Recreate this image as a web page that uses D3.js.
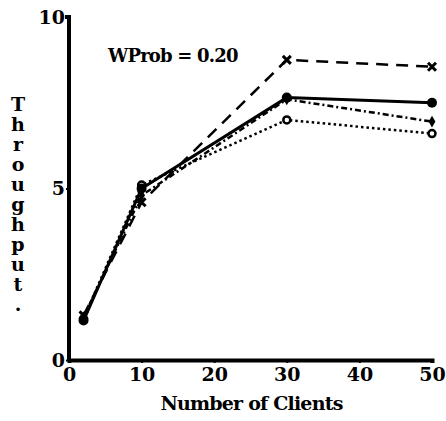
<!DOCTYPE html>
<html>
<head>
<meta charset="utf-8">
<script src="https://cdn.jsdelivr.net/npm/d3@7"></script>
<style>
  body { margin: 0; background: #fff; }
</style>
</head>
<body>
<div id="chart"></div>
<script>
const clients = [2, 10, 30, 50];
const solidVals = [1.15, 5.0, 7.65, 7.5];
const dashedVals = [1.3, 4.6, 8.75, 8.55];
const dashDotVals = [1.25, 4.8, 7.6, 6.95];
const dottedVals = [1.2, 5.1, 7.0, 6.6];
const xTicks = [0, 10, 20, 30, 40, 50];
const yTicks = [0, 5, 10];
const yLabel = "Throughput.";

const FONT = "'DejaVu Serif', serif";
const W = 446, H = 421;
const margin = { top: 17, right: 14, bottom: 61, left: 69 },
  width = W - margin.left - margin.right,
  height = H - margin.top - margin.bottom;

const svg = d3.select("#chart").append("svg")
  .attr("width", W)
  .attr("height", H)
  .append("g")
  .attr("transform", `translate(${margin.left},${margin.top})`);

const x = d3.scaleLinear().domain([0, 50]).range([0, width]);
const y = d3.scaleLinear().domain([0, 10]).range([height, 0]);

// axes
const xAxis = svg.append("g")
  .attr("transform", `translate(0,${height})`)
  .call(d3.axisBottom(x).tickValues(xTicks).tickSize(3).tickPadding(5));
xAxis.select(".domain").attr("stroke-width", 4);

const yAxis = svg.append("g")
  .call(d3.axisLeft(y).tickValues(yTicks).tickSize(3).tickPadding(1));
yAxis.select(".domain").attr("stroke-width", 4).attr("d", `M-4,0H0V${height}`);

[xAxis, yAxis].forEach(a => {
  a.attr("font-family", FONT).attr("font-weight", "bold").attr("font-size", 19);
  a.selectAll(".tick line").attr("stroke-width", 2);
});

// series
const series = [
  { vals: dashedVals, dash: "12,8", marker: "x" },
  { vals: dashDotVals, dash: "6,3,2,3", marker: "diamond" },
  { vals: dottedVals, dash: "2.5,3", marker: "circle" },
  { vals: solidVals, dash: null, marker: "dot" }
];

const line = d3.line()
  .x((d, i) => x(clients[i]))
  .y(d => y(d));

series.forEach(s => {
  svg.append("path")
    .datum(s.vals)
    .attr("fill", "none")
    .attr("stroke", "#000")
    .attr("stroke-width", s.dash ? 2.5 : 3)
    .attr("stroke-dasharray", s.dash)
    .attr("d", line);

  const pts = svg.selectAll(null)
    .data(s.vals)
    .join("g")
    .attr("transform", (d, i) => `translate(${x(clients[i])},${y(d)})`);

  if (s.marker === "x") {
    pts.append("path").attr("d", "M-4,-4L4,4M-4,4L4,-4")
      .attr("stroke", "#000").attr("stroke-width", 3);
  } else if (s.marker === "diamond") {
    pts.append("path").attr("d", d3.symbol(d3.symbolDiamond, 40)())
      .attr("fill", "#000");
  } else if (s.marker === "circle") {
    pts.append("circle").attr("r", 3.5)
      .attr("fill", "#fff").attr("stroke", "#000").attr("stroke-width", 2.5);
  } else {
    pts.append("circle").attr("r", 5).attr("fill", "#000");
  }
});

// annotation
svg.append("text")
  .attr("x", 39)
  .attr("y", 45)
  .attr("font-family", FONT)
  .attr("font-weight", "bold")
  .attr("font-size", 18)
  .attr("letter-spacing", -0.8)
  .text("WProb = 0.20");

// stacked y label
svg.append("g")
  .selectAll("text")
  .data(yLabel.split(""))
  .join("text")
  .attr("x", -51)
  .attr("y", (d, i) => 94 + i * 20)
  .attr("text-anchor", "middle")
  .attr("font-family", FONT)
  .attr("font-weight", "bold")
  .attr("font-size", 19)
  .text(d => d);

// x label
svg.append("text")
  .attr("x", width / 2 + 1)
  .attr("y", height + 50)
  .attr("text-anchor", "middle")
  .attr("font-family", FONT)
  .attr("font-weight", "bold")
  .attr("font-size", 19)
  .attr("letter-spacing", -0.8)
  .text("Number of Clients");
</script>
</body>
</html>
